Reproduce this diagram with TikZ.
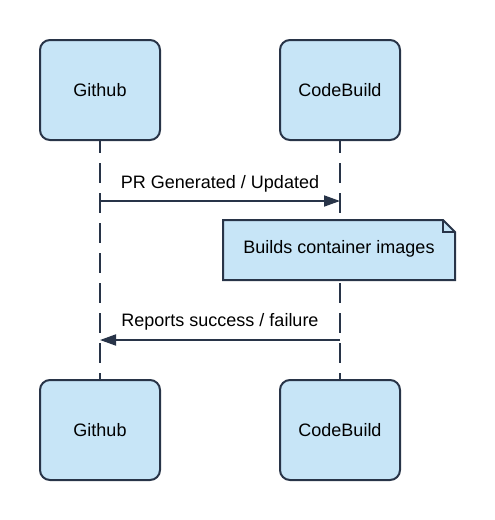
\documentclass[tikz,border=0pt]{standalone}
\usepackage{fontspec}
\setmainfont{Liberation Sans}
\usetikzlibrary{arrows.meta}
\definecolor{boxfill}{RGB}{199,229,247}
\definecolor{edge}{RGB}{40,52,72}
\tikzset{
  actor/.style={draw=edge, fill=boxfill, line width=2pt, rounded corners=10pt, minimum width=120pt, minimum height=100pt, font=\fontsize{18}{20}\selectfont},
  life/.style={draw=edge, line width=2pt, dash pattern=on 20pt off 10pt},
  msg/.style={draw=edge, line width=1.8pt, -{Triangle[length=16pt,width=11pt]}},
  lbl/.style={font=\fontsize{18}{20}\selectfont, inner sep=0pt},
}
\begin{document}
\begin{tikzpicture}[x=1pt,y=-1pt]
\useasboundingbox (0,0) rectangle (495,520);
% lifelines
\coordinate (g1b) at (100,140);
\coordinate (g2t) at (100,380);
\coordinate (c1b) at (340,140);
\coordinate (c2t) at (340,380);
\draw[life, dash phase=7pt] (g1b) -- (g2t);
\draw[life, dash phase=7pt] (c1b) -- (c2t);
% actors
\node[actor] (g1) at (100,90) {Github};
\node[actor] (c1) at (340,90) {CodeBuild};
\node[actor] (g2) at (100,430) {Github};
\node[actor] (c2) at (340,430) {CodeBuild};
% messages
\coordinate (m1s) at (100,201);
\coordinate (m1e) at (340,201);
\draw[msg] (m1s) -- (m1e);
\node[lbl] (m1l) at (220,184) {PR Generated / Updated};
% note
\coordinate (n1) at (223,220);
\coordinate (n2) at (443,220);
\coordinate (n3) at (455,232);
\coordinate (n4) at (455,280);
\coordinate (n5) at (223,280);
\coordinate (nf) at (443,232);
\draw[draw=edge, fill=boxfill, line width=2pt, line join=miter] (n1) -- (n2) -- (n3) -- (n4) -- (n5) -- cycle;
\draw[draw=edge, line width=1.5pt] (n2) -- (nf) -- (n3);
\node[lbl] (note) at (339,249) {Builds container images};
% return
\coordinate (m2s) at (340,340);
\coordinate (m2e) at (100,340);
\draw[msg] (m2s) -- (m2e);
\node[lbl] (m2l) at (220,322) {Reports success / failure};
\end{tikzpicture}
\end{document}
